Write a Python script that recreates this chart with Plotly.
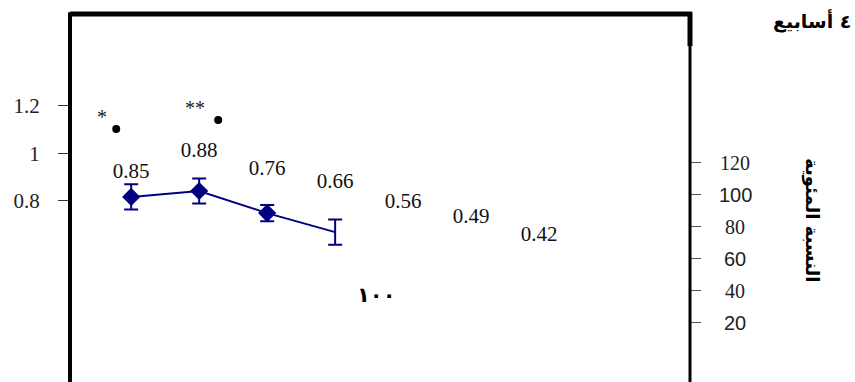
import plotly.graph_objects as go

# ---- data ----
categories = [1, 2, 3, 4, 5, 6, 7]
ratio_labels = ["0.85", "0.88", "0.76", "0.66", "0.56", "0.49", "0.42"]
label_heights = [0.918, 1.006, 0.93, 0.876, 0.792, 0.728, 0.653]

series_x = [1, 2, 3, 4]
series_y = [0.817, 0.842, 0.749, 0.669]
series_err = [0.053, 0.053, 0.034, 0.053]
marker_sizes = [14, 14, 14, 0]

sig_x = [0.78, 2.28]
sig_y = [1.103, 1.141]
sig_text = ["*", "**"]
sig_text_x = [0.57, 1.94]
sig_text_y = [1.145, 1.183]

left_ticks = [0.8, 1, 1.2]
left_ticktext = ["0.8", "1", "1.2"]
right_ticks = [20, 40, 60, 80, 100, 120]
right_ticktext = ["20", "40", "60", "80", "100", "120"]
right_tick_fonts = ["Liberation Sans", "Liberation Serif", "Liberation Sans",
                    "Liberation Serif", "Liberation Sans", "Liberation Serif"]

title_text = "٤ أسابيع"
right_title = "النسبة المئوية"
center_text = "١٠٠"

W, H = 855, 382
ml, mr, mt, mb = 70, 165, 14, 0

fig = go.Figure()

fig.add_trace(go.Scatter(
    x=series_x, y=series_y, mode="lines+markers",
    line=dict(color="#000080", width=2),
    marker=dict(symbol="diamond", size=marker_sizes, color="#000080", opacity=1,
                line=dict(width=0)),
    error_y=dict(type="data", array=series_err, color="#000080", thickness=2, width=7),
    showlegend=False, hoverinfo="skip"))

fig.add_trace(go.Scatter(
    x=categories, y=label_heights, mode="text", text=ratio_labels,
    textfont=dict(family="Liberation Serif", size=21, color="#111"),
    showlegend=False, hoverinfo="skip"))

fig.add_trace(go.Scatter(
    x=sig_x, y=sig_y, mode="markers",
    marker=dict(symbol="circle", size=8, color="black"),
    showlegend=False, hoverinfo="skip"))

fig.add_trace(go.Scatter(
    x=sig_text_x, y=sig_text_y, mode="text", text=sig_text,
    textfont=dict(family="Liberation Serif", size=20, color="#222"),
    showlegend=False, hoverinfo="skip"))

# invisible trace to activate right axis
fig.add_trace(go.Scatter(x=[1], y=[50], yaxis="y2", mode="markers",
                         marker=dict(opacity=0), showlegend=False, hoverinfo="skip"))

annotations = []
for v, t, f in zip(right_ticks, right_ticktext, right_tick_fonts):
    annotations.append(dict(x=(735 - ml) / (W - ml - mr), xref="paper", y=v, yref="y2",
                            text=t, showarrow=False, xanchor="center", yanchor="middle",
                            font=dict(family=f, size=20, color="#222")))

annotations.append(dict(x=(812 - ml) / (W - ml - mr), xref="paper", y=1 - (21 - mt) / (H - mt - mb),
                        yref="paper", text="<b>" + title_text + "</b>", showarrow=False,
                        xanchor="center", yanchor="middle",
                        font=dict(family="DejaVu Sans", size=19, color="black")))
annotations.append(dict(x=(812 - ml) / (W - ml - mr), xref="paper", y=1 - (220 - mt) / (H - mt - mb),
                        yref="paper", text="<b>" + right_title + "</b>", showarrow=False,
                        textangle=90, xanchor="center", yanchor="middle",
                        font=dict(family="DejaVu Sans", size=18, color="black")))
annotations.append(dict(x=4.6, xref="x", y=0.404, yref="y", text="<b>" + center_text + "</b>",
                        showarrow=False, xanchor="center", yanchor="middle",
                        font=dict(family="DejaVu Sans", size=21, color="black")))

shapes = [
    dict(type="line", xref="paper", yref="paper", x0=0, x1=0, y0=-0.05, y1=1.005,
         line=dict(color="black", width=4)),
    dict(type="line", xref="paper", yref="paper", x0=0, x1=1.003, y0=1, y1=1,
         line=dict(color="black", width=5)),
    dict(type="line", xref="paper", yref="paper", x0=1, x1=1, y0=-0.05, y1=1.005,
         line=dict(color="black", width=3)),
    dict(type="line", xref="paper", yref="paper", x0=1, x1=1, y0=1 - 32 / (H - mt - mb), y1=1.005,
         line=dict(color="black", width=5)),
]

fig.update_layout(
    width=W, height=H,
    margin=dict(l=ml, r=mr, t=mt, b=mb, pad=0),
    paper_bgcolor="white", plot_bgcolor="white",
    xaxis=dict(range=[0.1, 9.22], visible=False, fixedrange=True),
    yaxis=dict(range=[0.038, 1.587], tickvals=left_ticks, ticktext=left_ticktext,
               ticks="outside", ticklen=11, tickwidth=1, tickcolor="#333",
               showgrid=False, zeroline=False, showline=False,
               ticklabelstandoff=14,
               tickfont=dict(family="Liberation Serif", size=21, color="#222")),
    yaxis2=dict(range=[-16.9, 213.1], overlaying="y", side="right",
                tickvals=right_ticks, showticklabels=False,
                ticks="outside", ticklen=10, tickwidth=1, tickcolor="#555",
                showgrid=False, zeroline=False, showline=False),
    annotations=annotations, shapes=shapes,
)

fig.write_html("out.html")
